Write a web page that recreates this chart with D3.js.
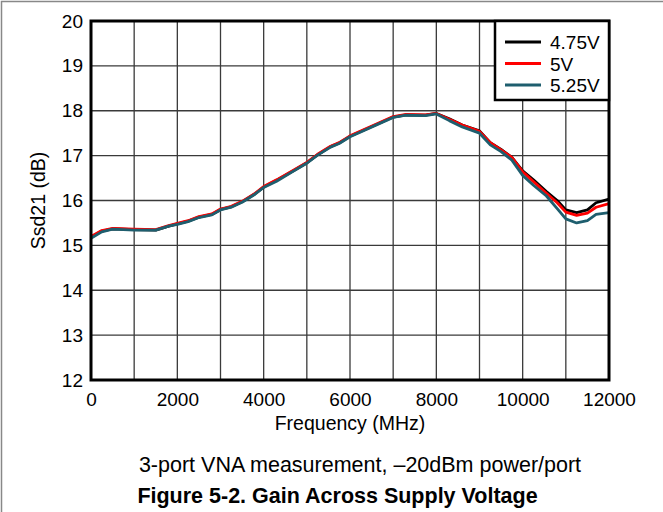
<!DOCTYPE html>
<html><head><meta charset="utf-8">
<script src="https://cdn.jsdelivr.net/npm/d3@7"></script>
<style>body{margin:0;background:#fff}svg{display:block}</style>
</head><body><svg id="c" width="663" height="512"></svg>
<script>
const freq = [0,250,500,1000,1500,1800,2000,2250,2500,2800,3000,3250,3500,3800,4000,4300,4700,5000,5250,5550,5750,6000,6300,6600,7000,7300,7750,8000,8300,8600,9000,9250,9500,9750,10000,10250,10550,10800,11000,11250,11500,11700,12000];
const v475 = [15.18,15.32,15.37,15.35,15.34,15.43,15.48,15.54,15.63,15.69,15.80,15.86,15.97,16.15,16.30,16.45,16.67,16.84,17.02,17.20,17.28,17.43,17.56,17.69,17.86,17.91,17.90,17.94,17.82,17.68,17.55,17.29,17.14,16.96,16.66,16.46,16.20,16.00,15.79,15.73,15.79,15.95,16.03];
const v500 = [15.20,15.33,15.38,15.36,15.35,15.44,15.49,15.55,15.64,15.70,15.81,15.87,15.98,16.16,16.31,16.46,16.68,16.85,17.03,17.21,17.29,17.44,17.57,17.70,17.87,17.92,17.91,17.94,17.81,17.68,17.54,17.29,17.13,16.96,16.64,16.42,16.16,15.95,15.74,15.67,15.72,15.85,15.93];
const v525 = [15.16,15.30,15.36,15.34,15.34,15.43,15.47,15.53,15.62,15.68,15.79,15.85,15.96,16.14,16.29,16.43,16.66,16.83,17.01,17.19,17.27,17.42,17.55,17.68,17.85,17.90,17.89,17.93,17.78,17.64,17.50,17.24,17.09,16.90,16.56,16.34,16.10,15.82,15.59,15.50,15.55,15.69,15.73];
const seriesNames = ["4.75V","5V","5.25V"];
const seriesColors = ["#000000","#ff0000","#1e5e6e"];
const xTicks = [0,2000,4000,6000,8000,10000,12000];
const yTicks = [12,13,14,15,16,17,18,19,20];
const xGrid = [1000,2000,3000,4000,5000,6000,7000,8000,9000,10000,11000];

const svg = d3.select("#c");
const L=91, R=609, T=21, B=380;
const x = d3.scaleLinear().domain([0,12000]).range([L,R]);
const y = d3.scaleLinear().domain([12,20]).range([B,T]);
const font = "Arial, 'Liberation Sans', sans-serif";

// outer frame
svg.append("path").attr("d","M1.5,512 L1.5,1.5 L663,1.5").attr("fill","none").attr("stroke","#888").attr("stroke-width",1.5);

// grid
svg.append("g").selectAll("line").data(xGrid).join("line")
  .attr("x1",d=>x(d)).attr("x2",d=>x(d)).attr("y1",T).attr("y2",B)
  .attr("stroke","#3a3a3a").attr("stroke-width",1.3);
svg.append("g").selectAll("line").data(yTicks.slice(1,-1)).join("line")
  .attr("x1",L).attr("x2",R).attr("y1",d=>y(d)).attr("y2",d=>y(d))
  .attr("stroke","#3a3a3a").attr("stroke-width",1.3);

// axes
const xa = svg.append("g").attr("transform",`translate(0,${B})`).call(d3.axisBottom(x).tickValues(xTicks).tickSize(0).tickPadding(13).tickFormat(d3.format("d")));
xa.select(".domain").remove();
xa.selectAll("text").attr("font-family",font).attr("font-size",19).attr("fill","#000");
const ya = svg.append("g").attr("transform",`translate(${L},0)`).call(d3.axisLeft(y).tickValues(yTicks).tickSize(0).tickPadding(8));
ya.select(".domain").remove();
ya.selectAll("text").attr("font-family",font).attr("font-size",19).attr("fill","#000");

// lines
const line = d3.line().x((d,i)=>x(freq[i])).y(d=>y(d));
[v475,v500,v525].forEach((s,i)=>{
  svg.append("path").datum(s).attr("d",line).attr("fill","none")
    .attr("stroke",seriesColors[i]).attr("stroke-width",2.8).attr("stroke-linejoin","round");
});

// plot border
svg.append("rect").attr("x",L).attr("y",T).attr("width",R-L).attr("height",B-T)
  .attr("fill","none").attr("stroke","#000").attr("stroke-width",3);

// legend
const lg = svg.append("g");
lg.append("rect").attr("x",495).attr("y",T).attr("width",R-495).attr("height",79)
  .attr("fill","#fff").attr("stroke","#000").attr("stroke-width",2.5);
seriesNames.forEach((n,i)=>{
  const yy = 42 + i*21.5;
  lg.append("line").attr("x1",505).attr("x2",541).attr("y1",yy).attr("y2",yy)
    .attr("stroke",seriesColors[i]).attr("stroke-width",2.8);
  lg.append("text").attr("x",550).attr("y",yy+7).text(n)
    .attr("font-family",font).attr("font-size",19);
});

// titles
svg.append("text").attr("x",(L+R)/2).attr("y",430).attr("text-anchor","middle")
  .attr("font-family",font).attr("font-size",19.5).text("Frequency (MHz)");
svg.append("text").attr("transform",`translate(45,${(T+B)/2}) rotate(-90)`).attr("text-anchor","middle")
  .attr("font-family",font).attr("font-size",19.5).text("Ssd21 (dB)");
svg.append("text").attr("x",360).attr("y",472).attr("text-anchor","middle")
  .attr("font-family",font).attr("font-size",21.5).text("3-port VNA measurement, \u201320dBm power/port");
svg.append("text").attr("x",337.5).attr("y",503).attr("text-anchor","middle")
  .attr("font-family",font).attr("font-size",21.5).attr("font-weight","bold").text("Figure 5-2. Gain Across Supply Voltage");
</script></body></html>
